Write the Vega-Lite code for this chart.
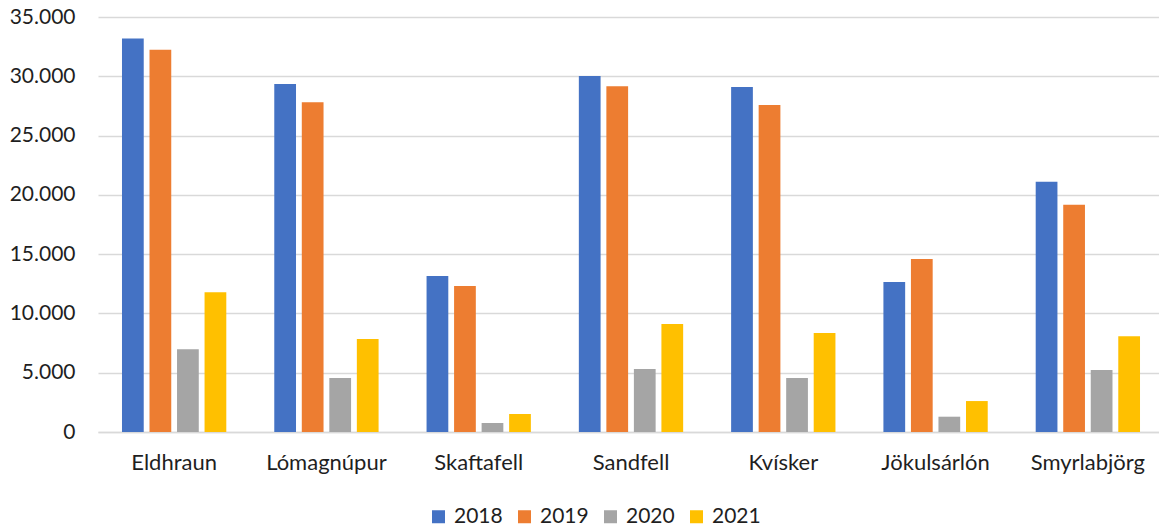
{
  "$schema": "https://vega.github.io/schema/vega-lite/v6.json",
  "width": 1061,
  "height": 415,
  "autosize": {"type": "none"},
  "padding": {"left": 98, "top": 17, "right": 0, "bottom": 95},
  "background": "white",
  "config": {
    "locale": {"number": {"decimal": ",", "thousands": ".", "grouping": [3], "currency": ["", " kr."]}},
    "font": "Lato",
    "view": {"stroke": null}
  },
  "data": {
    "values": [
      {"stadur": "Eldhraun", "ar": "2018", "fjoldi": 33180},
      {"stadur": "Eldhraun", "ar": "2019", "fjoldi": 32240},
      {"stadur": "Eldhraun", "ar": "2020", "fjoldi": 6980},
      {"stadur": "Eldhraun", "ar": "2021", "fjoldi": 11790},
      {"stadur": "Lómagnúpur", "ar": "2018", "fjoldi": 29340},
      {"stadur": "Lómagnúpur", "ar": "2019", "fjoldi": 27820},
      {"stadur": "Lómagnúpur", "ar": "2020", "fjoldi": 4550},
      {"stadur": "Lómagnúpur", "ar": "2021", "fjoldi": 7840},
      {"stadur": "Skaftafell", "ar": "2018", "fjoldi": 13150},
      {"stadur": "Skaftafell", "ar": "2019", "fjoldi": 12310},
      {"stadur": "Skaftafell", "ar": "2020", "fjoldi": 760},
      {"stadur": "Skaftafell", "ar": "2021", "fjoldi": 1520},
      {"stadur": "Sandfell", "ar": "2018", "fjoldi": 30020},
      {"stadur": "Sandfell", "ar": "2019", "fjoldi": 29170},
      {"stadur": "Sandfell", "ar": "2020", "fjoldi": 5310},
      {"stadur": "Sandfell", "ar": "2021", "fjoldi": 9110},
      {"stadur": "Kvísker", "ar": "2018", "fjoldi": 29090},
      {"stadur": "Kvísker", "ar": "2019", "fjoldi": 27570},
      {"stadur": "Kvísker", "ar": "2020", "fjoldi": 4550},
      {"stadur": "Kvísker", "ar": "2021", "fjoldi": 8350},
      {"stadur": "Jökulsárlón", "ar": "2018", "fjoldi": 12650},
      {"stadur": "Jökulsárlón", "ar": "2019", "fjoldi": 14590},
      {"stadur": "Jökulsárlón", "ar": "2020", "fjoldi": 1290},
      {"stadur": "Jökulsárlón", "ar": "2021", "fjoldi": 2610},
      {"stadur": "Smyrlabjörg", "ar": "2018", "fjoldi": 21100},
      {"stadur": "Smyrlabjörg", "ar": "2019", "fjoldi": 19170},
      {"stadur": "Smyrlabjörg", "ar": "2020", "fjoldi": 5230},
      {"stadur": "Smyrlabjörg", "ar": "2021", "fjoldi": 8070}
    ]
  },
  "mark": {"type": "bar"},
  "encoding": {
    "x": {
      "field": "stadur",
      "type": "nominal",
      "sort": null,
      "scale": {"range": [0, 1066], "paddingInner": 0.315, "paddingOuter": 0.1575},
      "axis": {
        "title": null,
        "labelAngle": 0,
        "labelFontSize": 22,
        "labelColor": "#1f1f1f",
        "labelPadding": 20,
        "ticks": false,
        "domainColor": "#D9D9D9",
        "domainWidth": 1.5
      }
    },
    "xOffset": {
      "field": "ar",
      "type": "nominal",
      "scale": {"paddingInner": 0.21, "paddingOuter": 0}
    },
    "y": {
      "field": "fjoldi",
      "type": "quantitative",
      "scale": {"domain": [0, 35000], "nice": false},
      "axis": {
        "title": null,
        "values": [0, 5000, 10000, 15000, 20000, 25000, 30000, 35000],
        "format": ",d",
        "labelFontSize": 21,
        "labelColor": "#1f1f1f",
        "labelPadding": 23,
        "ticks": false,
        "domain": false,
        "gridColor": "#D9D9D9",
        "gridWidth": 1.5
      }
    },
    "color": {
      "field": "ar",
      "type": "nominal",
      "scale": {"domain": ["2018", "2019", "2020", "2021"], "range": ["#4472C4", "#ED7D31", "#A5A5A5", "#FFC000"]},
      "legend": {
        "orient": "none",
        "legendX": 330,
        "legendY": 489,
        "direction": "horizontal",
        "title": null,
        "symbolType": "square",
        "symbolSize": 169,
        "symbolStrokeWidth": 0,
        "labelFontSize": 21,
        "labelColor": "#1f1f1f",
        "labelOffset": 5,
        "columnPadding": 11
      }
    }
  }
}
